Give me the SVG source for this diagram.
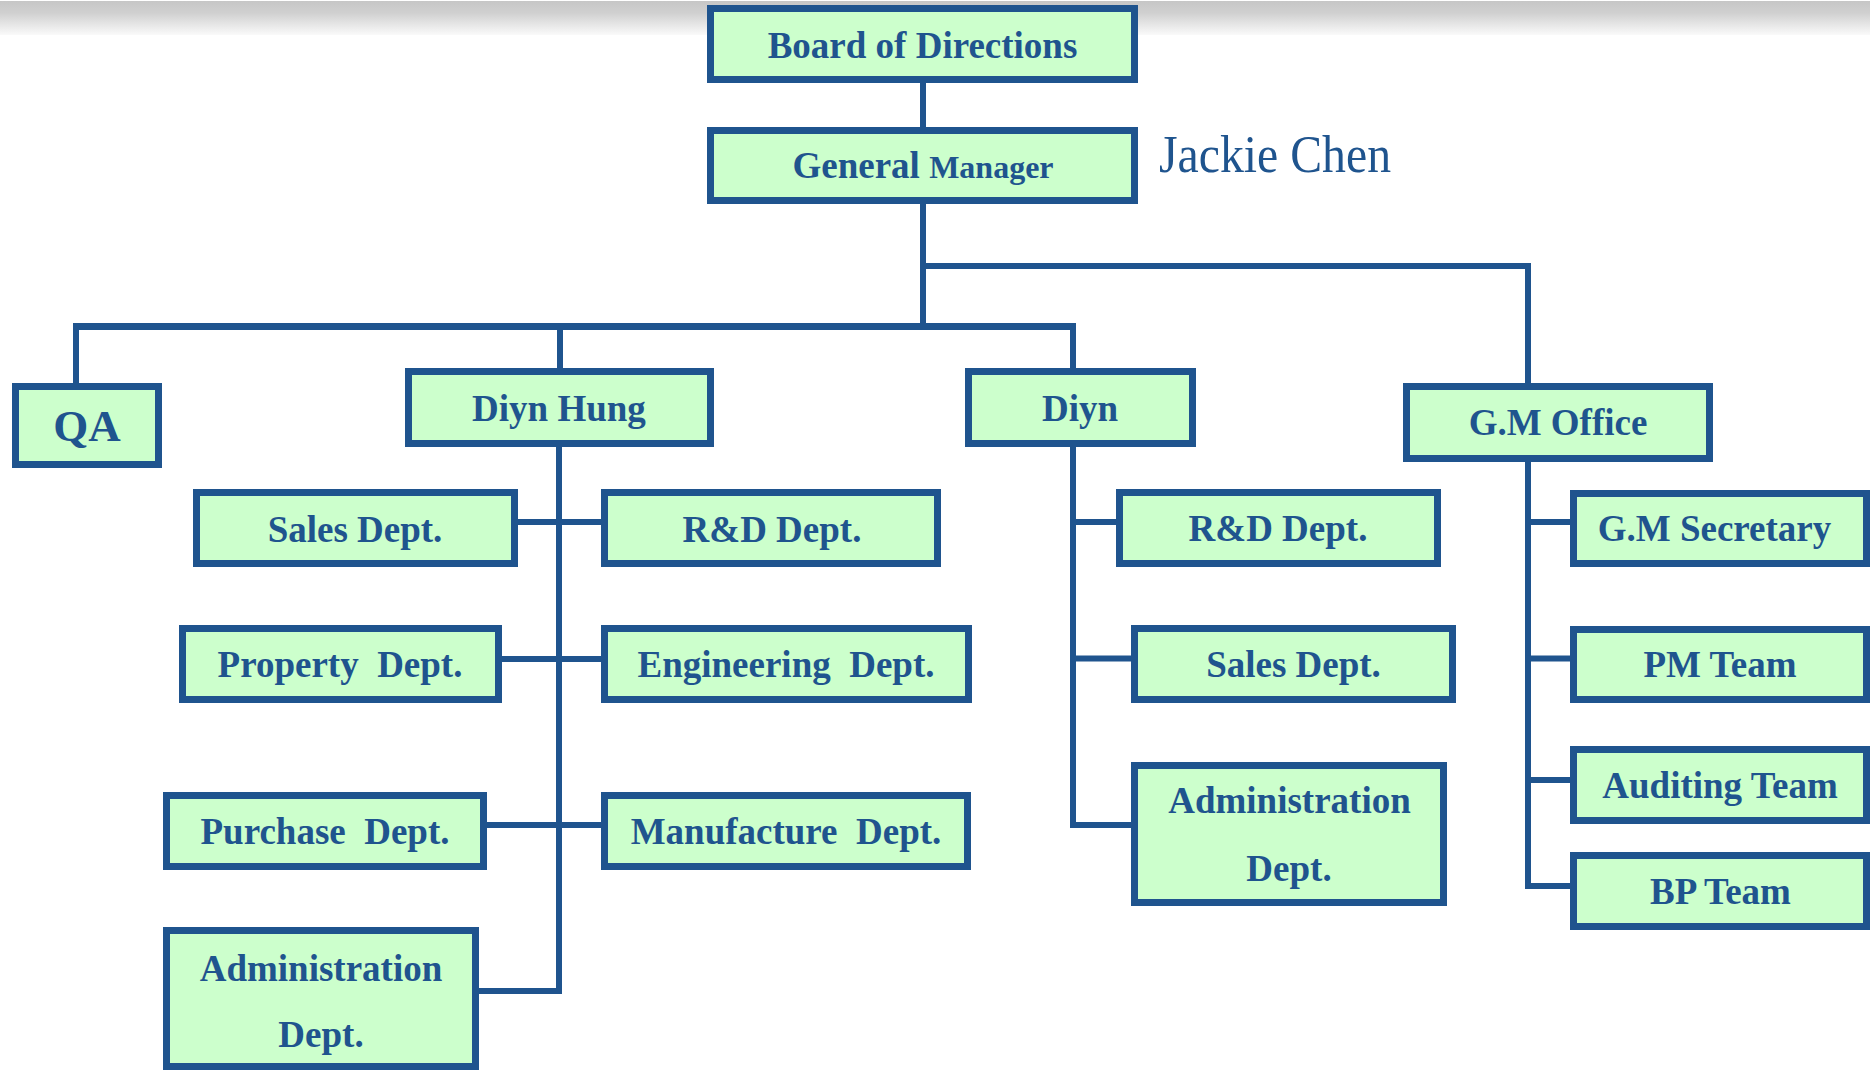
<svg xmlns="http://www.w3.org/2000/svg" width="1870" height="1071" viewBox="0 0 1870 1071">
<style>
  .box { fill: #CCFFCC; stroke: #1F548E; stroke-width: 7; }
  .t { font-family: "Liberation Serif", "Times New Roman", serif; font-weight: bold; font-size: 37px; fill: #1F548E; text-anchor: middle; white-space: pre; }
  .jc { font-family: "Liberation Serif", "Times New Roman", serif; font-weight: normal; font-size: 52px; fill: #1F548E; }
  .ln { stroke: #1F548E; stroke-width: 6; fill: none; stroke-linecap: square; }
  .bar { stroke: #1F548E; stroke-width: 7; fill: none; }
</style>
<defs>
  <linearGradient id="topShade" x1="0" y1="0" x2="0" y2="1">
    <stop offset="0" stop-color="#c6c6c6"/>
    <stop offset="0.35" stop-color="#d0d0d0"/>
    <stop offset="1" stop-color="#fafafa"/>
  </linearGradient>
</defs>
<rect x="0" y="0" width="1870" height="1071" fill="#ffffff"/>
<rect x="0" y="1" width="1870" height="34" fill="url(#topShade)"/>

<g id="connectors">
  <line class="ln" x1="923" y1="83" x2="923" y2="127"/>
  <line class="ln" x1="923" y1="204" x2="923" y2="326"/>
  <polyline class="ln" points="923,266 1528,266 1528,383"/>
  <line class="bar" x1="73" y1="326.5" x2="1076" y2="326.5"/>
  <line class="ln" x1="76" y1="326" x2="76" y2="383"/>
  <line class="ln" x1="560" y1="326" x2="560" y2="368"/>
  <line class="ln" x1="1073" y1="326" x2="1073" y2="368"/>
  <polyline class="ln" points="559,447 559,991 479,991"/>
  <line class="ln" x1="518" y1="522" x2="601" y2="522"/>
  <line class="ln" x1="502" y1="659" x2="601" y2="659"/>
  <line class="ln" x1="487" y1="825" x2="601" y2="825"/>
  <polyline class="ln" points="1073,447 1073,825 1131,825"/>
  <line class="ln" x1="1073" y1="522" x2="1116" y2="522"/>
  <line class="ln" x1="1073" y1="658.5" x2="1131" y2="658.5"/>
  <polyline class="ln" points="1528,462 1528,886 1570,886"/>
  <line class="ln" x1="1528" y1="522" x2="1570" y2="522"/>
  <line class="ln" x1="1528" y1="658.5" x2="1570" y2="658.5"/>
  <line class="ln" x1="1528" y1="780" x2="1570" y2="780"/>
</g>

<g id="board">
  <rect class="box" x="710.5" y="8.5" width="424" height="71"/>
  <text class="t" x="922.5" y="58">Board of Directions</text>
</g>
<g id="general-manager">
  <rect class="box" x="710.5" y="130.5" width="424" height="70"/>
  <text class="t" x="923" y="178"><tspan>General </tspan><tspan font-size="32">Manager</tspan></text>
</g>
<g id="jackie-chen">
  <text class="jc" x="1159" y="172" textLength="232" lengthAdjust="spacingAndGlyphs">Jackie Chen</text>
</g>
<g id="qa">
  <rect class="box" x="15.5" y="386.5" width="143" height="78"/>
  <text class="t" x="87" y="441" style="font-size:45px">QA</text>
</g>
<g id="diyn-hung">
  <rect class="box" x="408.5" y="371.5" width="302" height="72"/>
  <text class="t" x="559" y="421">Diyn Hung</text>
</g>
<g id="diyn">
  <rect class="box" x="968.5" y="371.5" width="224" height="72"/>
  <text class="t" x="1080" y="421">Diyn</text>
</g>
<g id="gm-office">
  <rect class="box" x="1406.5" y="386.5" width="303" height="72"/>
  <text class="t" x="1558" y="435">G.M Office</text>
</g>

<g id="dh-sales">
  <rect class="box" x="196.5" y="492.5" width="318" height="71"/>
  <text class="t" x="355" y="541.5">Sales Dept.</text>
</g>
<g id="dh-rd">
  <rect class="box" x="604.5" y="492.5" width="333" height="71"/>
  <text class="t" x="772" y="541.5">R&amp;D Dept.</text>
</g>
<g id="dh-property">
  <rect class="box" x="182.5" y="628.5" width="316" height="71"/>
  <text class="t" x="340" y="677" xml:space="preserve">Property  Dept.</text>
</g>
<g id="dh-engineering">
  <rect class="box" x="604.5" y="628.5" width="364" height="71"/>
  <text class="t" x="786" y="677" xml:space="preserve">Engineering  Dept.</text>
</g>
<g id="dh-purchase">
  <rect class="box" x="166.5" y="795.5" width="317" height="71"/>
  <text class="t" x="325" y="844" xml:space="preserve">Purchase  Dept.</text>
</g>
<g id="dh-manufacture">
  <rect class="box" x="604.5" y="795.5" width="363" height="71"/>
  <text class="t" x="786" y="844" xml:space="preserve">Manufacture  Dept.</text>
</g>
<g id="dh-administration">
  <rect class="box" x="166.5" y="930.5" width="309" height="136"/>
  <text class="t" x="321" y="981">Administration</text>
  <text class="t" x="321" y="1047">Dept.</text>
</g>

<g id="d-rd">
  <rect class="box" x="1119.5" y="492.5" width="318" height="71"/>
  <text class="t" x="1278" y="541">R&amp;D Dept.</text>
</g>
<g id="d-sales">
  <rect class="box" x="1134.5" y="628.5" width="318" height="71"/>
  <text class="t" x="1293.5" y="677">Sales Dept.</text>
</g>
<g id="d-administration">
  <rect class="box" x="1134.5" y="765.5" width="309" height="137"/>
  <text class="t" x="1289.5" y="813">Administration</text>
  <text class="t" x="1289" y="880.5">Dept.</text>
</g>

<g id="gm-secretary">
  <rect class="box" x="1573.5" y="493.5" width="293" height="70"/>
  <text class="t" x="1714.5" y="541">G.M Secretary</text>
</g>
<g id="pm-team">
  <rect class="box" x="1573.5" y="629.5" width="293" height="70"/>
  <text class="t" x="1720" y="677">PM Team</text>
</g>
<g id="auditing-team">
  <rect class="box" x="1573.5" y="749.5" width="293" height="71"/>
  <text class="t" x="1720" y="798">Auditing Team</text>
</g>
<g id="bp-team">
  <rect class="box" x="1573.5" y="855.5" width="293" height="71"/>
  <text class="t" x="1720.5" y="904">BP Team</text>
</g>
</svg>
